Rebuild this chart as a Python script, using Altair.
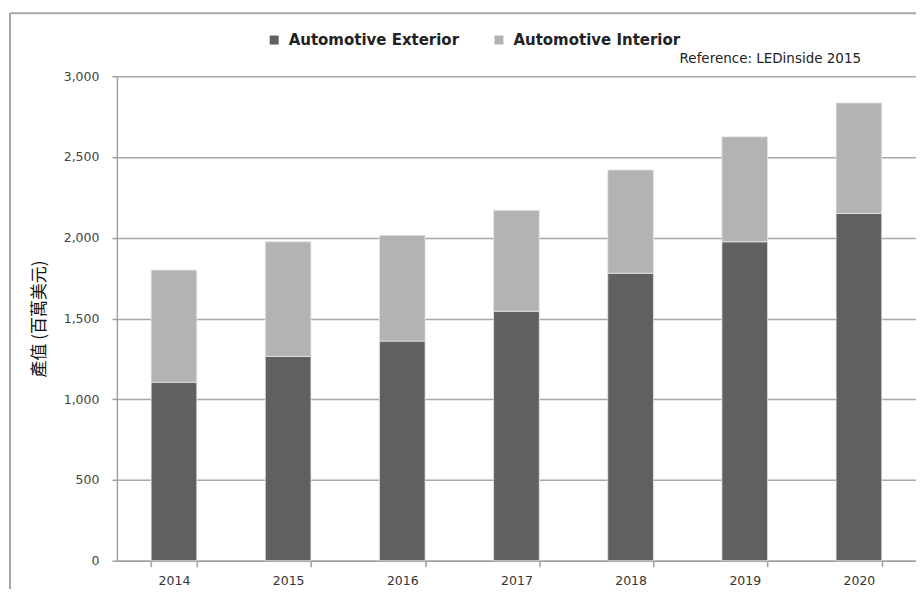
import altair as alt
import pandas as pd

years = ["2014", "2015", "2016", "2017", "2018", "2019", "2020"]
exterior = [1105, 1265, 1360, 1545, 1780, 1975, 2150]
totals = [1800, 1975, 2015, 2170, 2420, 2625, 2835]
interior = [t - e for t, e in zip(totals, exterior)]
series = ["Automotive Exterior", "Automotive Interior"]
colors = ["#606060", "#b3b3b3"]
y_title = "產值 (百萬美元)"
source_note = "Reference: LEDinside 2015"

rows = []
for y, e, i in zip(years, exterior, interior):
    rows.append({"year": y, "series": series[0], "value": e, "ord": 0})
    rows.append({"year": y, "series": series[1], "value": i, "ord": 1})
df = pd.DataFrame(rows)

FONT = "DejaVu Sans"

bars = alt.Chart(df).mark_bar(stroke="#e6e6e6", strokeWidth=0.8).encode(
    x=alt.X("year:N", sort=years, title=None,
            scale=alt.Scale(paddingInner=0.6, paddingOuter=0.3),
            axis=alt.Axis(labelAngle=0, tickBand="extent", tickSize=6,
                          tickColor="#a0a0a0", domainColor="#a0a0a0",
                          domainWidth=1.5, tickWidth=1.5,
                          labelFont=FONT, labelFontSize=12.5, labelColor="#333333",
                          labelPadding=8, grid=False)),
    y=alt.Y("value:Q", stack="zero", title=y_title,
            scale=alt.Scale(domain=[0, 3000], nice=False),
            axis=alt.Axis(values=[0, 500, 1000, 1500, 2000, 2500, 3000], format=",.0f",
                          tickSize=5, tickColor="#a0a0a0", tickWidth=1.5,
                          domainColor="#a0a0a0", domainWidth=1.5,
                          gridColor="#a8a8a8", gridWidth=1.5,
                          labelFont=FONT, labelFontSize=12.5, labelColor="#444444",
                          labelPadding=13,
                          titleFont="Noto Sans CJK TC", titleFontSize=17,
                          titleFontWeight="normal", titleColor="#111111",
                          titlePadding=15)),
    color=alt.Color("series:N", scale=alt.Scale(domain=series, range=colors),
                    legend=alt.Legend(title=None, orient="none", direction="horizontal",
                                      legendX=150, legendY=-44,
                                      symbolType="square", symbolSize=81,
                                      symbolStrokeWidth=0, columnPadding=32,
                                      labelFont=FONT, labelFontSize=15,
                                      labelFontWeight="bold", labelColor="#222222",
                                      labelOffset=7, labelLimit=400)),
    order=alt.Order("ord:Q", sort="ascending"),
)

note = alt.Chart(alt.Data(values=[{"t": source_note}])).mark_text(
    align="right", baseline="middle", font=FONT, fontSize=13.5, color="#222222"
).encode(text="t:N", x=alt.value(745), y=alt.value(-17))

frame_top = alt.Chart(alt.Data(values=[{"k": 1}])).mark_rule(
    color="#a6a6a6", strokeWidth=2
).encode(x=alt.value(-107), x2=alt.value(820), y=alt.value(-63))

frame_left = alt.Chart(alt.Data(values=[{"k": 1}])).mark_rule(
    color="#a6a6a6", strokeWidth=2
).encode(x=alt.value(-107), y=alt.value(-63), y2=alt.value(530))

chart = alt.layer(bars, note, frame_top, frame_left).properties(
    width=800, height=485,
    autosize=alt.AutoSizeParams(type="none"),
    padding={"left": 109, "top": 68, "right": 0, "bottom": 28},
    background="white",
).configure_view(stroke=None)

chart.save("out.html", embed_options={"renderer": "svg", "actions": False})
